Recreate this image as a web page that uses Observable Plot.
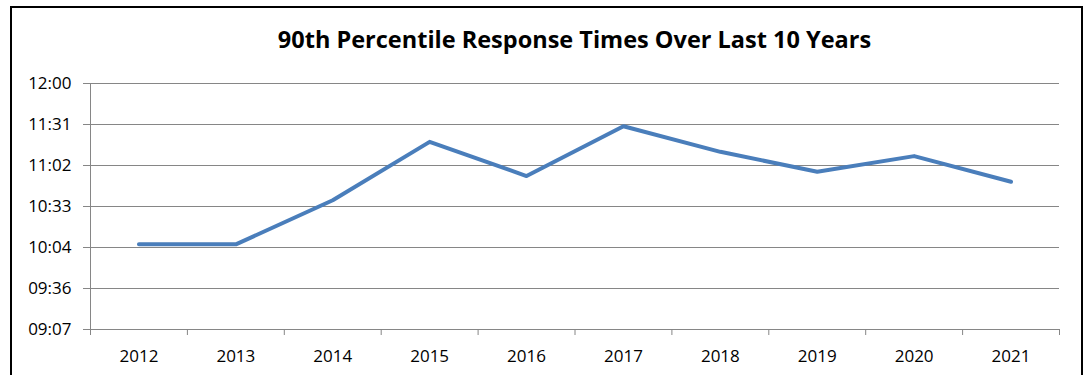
<!DOCTYPE html>
<html>
<head>
<meta charset="utf-8">
<script src="https://cdn.jsdelivr.net/npm/d3@7"></script>
<script src="https://cdn.jsdelivr.net/npm/@observablehq/plot@0.6"></script>
<style>
  html, body { margin: 0; padding: 0; background: #fff; }
  #wrap { position: relative; width: 1088px; height: 375px; overflow: hidden; }
  #frame { position: absolute; left: 10px; top: 6px; width: 1073px; height: 420px; border: 2px solid #000; box-sizing: border-box; }
  #title { position: absolute; left: 90px; width: 969px; top: 23px; text-align: center;
           font-family: "Open Sans", sans-serif; font-weight: bold; font-size: 23.5px; color: #000; white-space: nowrap; }
  #chart { position: absolute; left: 0; top: 60px; }
</style>
</head>
<body>
<div id="wrap">
  <div id="frame"></div>
  <div id="title">90th Percentile Response Times Over Last 10 Years</div>
  <div id="chart"></div>
</div>
<script>
// Data
const years = [2012, 2013, 2014, 2015, 2016, 2017, 2018, 2019, 2020, 2021];
const responseTimes = ["10:07", "10:07", "10:38", "11:19", "10:55", "11:30", "11:12", "10:58", "11:09", "10:51"];
// y ticks as fractions of a day (Excel time axis)
const yTicks = [0.38, 0.40, 0.42, 0.44, 0.46, 0.48, 0.50];

const toDay = s => { const [h, m] = s.split(":").map(Number); return (h * 60 + m) / 1440; };
const fmtTime = d => {
  const mins = Math.floor(d * 1440 + 1e-6);
  const h = Math.floor(mins / 60), m = mins % 60;
  return String(h).padStart(2, "0") + ":" + String(m).padStart(2, "0");
};

const data = years.map((y, i) => ({year: y, t: toDay(responseTimes[i])}));
const boundaries = years.map(y => y - 0.5).concat([years[years.length - 1] + 0.5]);

const grid = "#868686";
const chart = Plot.plot({
  width: 1088,
  height: 315,
  marginLeft: 90,
  marginRight: 29,
  marginTop: 23,
  marginBottom: 46,
  style: { background: "transparent", fontFamily: "'Open Sans', sans-serif", fontSize: "17px", color: "#000" },
  x: { domain: [boundaries[0], boundaries[boundaries.length - 1]] },
  y: { domain: [yTicks[0], yTicks[yTicks.length - 1]] },
  marks: [
    Plot.gridY(yTicks, { stroke: grid, strokeOpacity: 1, strokeWidth: 1 }),
    Plot.ruleX([boundaries[0]], { stroke: grid, strokeWidth: 1 }),
    Plot.axisY(yTicks, { tickSize: 7, tickPadding: 12, tickFormat: fmtTime, stroke: grid, strokeOpacity: 1, fill: "#000", fontSize: 17, label: null }),
    Plot.axisX(boundaries, { tickSize: 6, tickFormat: () => "", stroke: grid, strokeOpacity: 1, label: null }),
    Plot.axisX(years, { tickSize: 0, tickPadding: 20, tickFormat: d => String(d), fill: "#000", fontSize: 17, label: null }),
    Plot.line(data, { x: "year", y: "t", stroke: "#4a7ebb", strokeWidth: 4, strokeLinejoin: "round", strokeLinecap: "round" })
  ]
});
document.getElementById("chart").appendChild(chart);
</script>
</body>
</html>
